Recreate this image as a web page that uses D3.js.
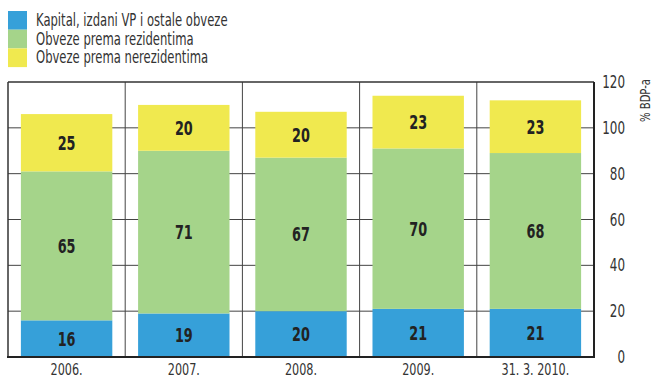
<!DOCTYPE html>
<html><head><meta charset="utf-8">
<script src="https://cdn.jsdelivr.net/npm/d3@7"></script>
<style>body{margin:0;background:#fff}svg{display:block}</style>
</head><body>
<svg id="c" width="654" height="380"></svg>
<script>
const categories = ["2006.", "2007.", "2008.", "2009.", "31. 3. 2010."];
const seriesNames = ["Kapital, izdani VP i ostale obveze", "Obveze prema rezidentima", "Obveze prema nerezidentima"];
const kapital = [16, 19, 20, 21, 21];
const rezidenti = [65, 71, 67, 70, 68];
const nerezidenti = [25, 20, 20, 23, 23];
const yTicks = [0, 20, 40, 60, 80, 100, 120];
const colors = ["#36a0d9", "#a5d48a", "#f0e94f"];
const axisTitle = "% BDP-a";

const font = "'Liberation Sans Narrow','DejaVu Sans Condensed',sans-serif";
const SX = 0.78;
const svg = d3.select("#c");
const L = 8, R = 594, T = 82, B = 357;
const x = d3.scaleBand().domain(categories).range([L, R]).paddingInner(0.22).paddingOuter(0.11);
const xb = d3.scaleBand().domain(categories).range([L, R]);
const y = d3.scaleLinear().domain([0, 120]).range([B, T]);

function label(parent, px, py, txt, opts) {
  const g = parent.append("g").attr("transform", `translate(${px},${py}) scale(${opts.sx || SX},1)`);
  g.append("text").attr("text-anchor", opts.anchor || "start").attr("font-family", font)
    .attr("font-size", opts.size).attr("font-weight", opts.weight || "normal")
    .attr("fill", opts.fill || "#333").text(txt);
  return g;
}

const data = categories.map((c, i) => ({cat: c, v: [kapital[i], rezidenti[i], nerezidenti[i]]}));
const stack = d3.stack().keys([0, 1, 2]).value((d, k) => d.v[k]);
const layers = stack(data);

// grid
svg.append("g").selectAll("line").data(yTicks.filter(t => t > 0 && t < 120)).join("line")
  .attr("x1", L).attr("x2", R).attr("y1", d => y(d)).attr("y2", d => y(d))
  .attr("stroke", "#444").attr("stroke-width", 1);
// vertical dividers
svg.append("g").selectAll("line").data(categories.slice(1)).join("line")
  .attr("x1", d => xb(d)).attr("x2", d => xb(d)).attr("y1", T).attr("y2", B)
  .attr("stroke", "#444").attr("stroke-width", 1);

// bars
const labelsG = svg.append("g");
layers.forEach((layer, k) => {
  svg.append("g").selectAll("rect").data(layer).join("rect")
    .attr("x", d => x(d.data.cat)).attr("width", x.bandwidth())
    .attr("y", d => y(d[1])).attr("height", d => y(d[0]) - y(d[1]))
    .attr("fill", colors[k]);
  layer.forEach(d => {
    label(labelsG, x(d.data.cat) + x.bandwidth() / 2, (y(d[0]) + y(d[1])) / 2 + 7, d[1] - d[0],
      {anchor: "middle", size: 19, weight: "bold", fill: "#222", sx: 0.75});
  });
});
labelsG.raise();

// frame
svg.append("line").attr("x1", L).attr("x2", R).attr("y1", T).attr("y2", T).attr("stroke", "#333").attr("stroke-width", 1.5);
svg.append("line").attr("x1", L).attr("x2", L).attr("y1", T).attr("y2", B).attr("stroke", "#333").attr("stroke-width", 1.5);
svg.append("line").attr("x1", R).attr("x2", R).attr("y1", T).attr("y2", B + 1).attr("stroke", "#222").attr("stroke-width", 2);
svg.append("line").attr("x1", L - 1).attr("x2", R + 1).attr("y1", B).attr("y2", B).attr("stroke", "#222").attr("stroke-width", 2);

// y tick labels
yTicks.forEach(t => label(svg, 625, y(t) + 6, t, {anchor: "end", size: 17}));
svg.append("g").attr("transform", "translate(650,79) rotate(-90) scale(0.8,1)")
  .append("text").attr("text-anchor", "end").attr("font-family", font).attr("font-size", 14).attr("fill", "#333")
  .text(axisTitle);

// x labels
categories.forEach(c => label(svg, xb(c) + xb.bandwidth() / 2, 375, c, {anchor: "middle", size: 16}));

// legend
seriesNames.forEach((n, i) => {
  svg.append("rect").attr("x", 8).attr("y", 11 + i * 18.7).attr("width", 19).attr("height", 18.7).attr("fill", colors[i]);
  label(svg, 36, 26 + i * 18.7, n, {size: 17, sx: 0.76});
});
</script>
</body></html>
